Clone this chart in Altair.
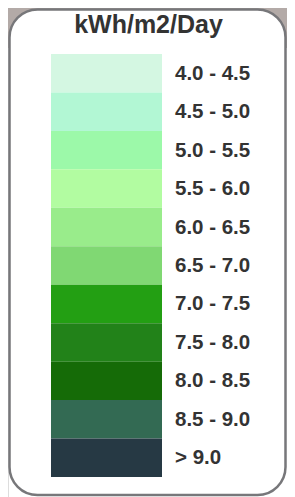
import altair as alt
import pandas as pd

labels = ["4.0 - 4.5", "4.5 - 5.0", "5.0 - 5.5", "5.5 - 6.0", "6.0 - 6.5", "6.5 - 7.0",
          "7.0 - 7.5", "7.5 - 8.0", "8.0 - 8.5", "8.5 - 9.0", "> 9.0"]
colors = ["#d4f7e2", "#b2f7d4", "#9cf9a9", "#b2fca1", "#99ec8b", "#80d873",
          "#239f13", "#228219", "#156b07", "#336a53", "#263944"]
title_text = "kWh/m2/Day"

df = pd.DataFrame({"label": labels, "color": colors})
one = pd.DataFrame({"t": [title_text]})

W, H = 279, 489
yscale = alt.Scale(domain=labels, range=[46, 469], paddingInner=0, paddingOuter=0)

grey_top = alt.Chart(one).mark_rect(color="#b3aaa7").encode(
    x=alt.value(0), x2=alt.value(W), y=alt.value(0), y2=alt.value(40))

box = alt.Chart(one).mark_rect(fill="white", stroke="#77777a", strokeWidth=2.5,
                               cornerRadius=28).encode(
    x=alt.value(1.5), x2=alt.value(277.5), y=alt.value(1.5), y2=alt.value(487))

title = alt.Chart(one).mark_text(font="Liberation Sans", fontWeight="bold", fontSize=25,
                                 color="#333333", align="center", baseline="alphabetic").encode(
    x=alt.value(140.5), y=alt.value(24.5), text="t:N")

swatches = alt.Chart(df).mark_rect().encode(
    x=alt.value(43), x2=alt.value(154),
    y=alt.Y("label:N", scale=yscale, axis=None, sort=labels),
    color=alt.Color("color:N", scale=None, legend=None))

texts = alt.Chart(df).mark_text(font="Liberation Sans", fontWeight="bold", fontSize=20.5,
                                color="#333333", align="left", baseline="middle", dy=0.5).encode(
    x=alt.value(167),
    y=alt.Y("label:N", scale=yscale, axis=None, sort=labels, bandPosition=0.5),
    text="label:N")

chart = alt.layer(grey_top, box, title, swatches, texts).properties(
    width=W, height=H, autosize=alt.AutoSizeParams(type="none"), padding=0
).configure_view(stroke=None).configure(background="white")

chart.save("out.html", embed_options={"renderer": "svg", "actions": False})
